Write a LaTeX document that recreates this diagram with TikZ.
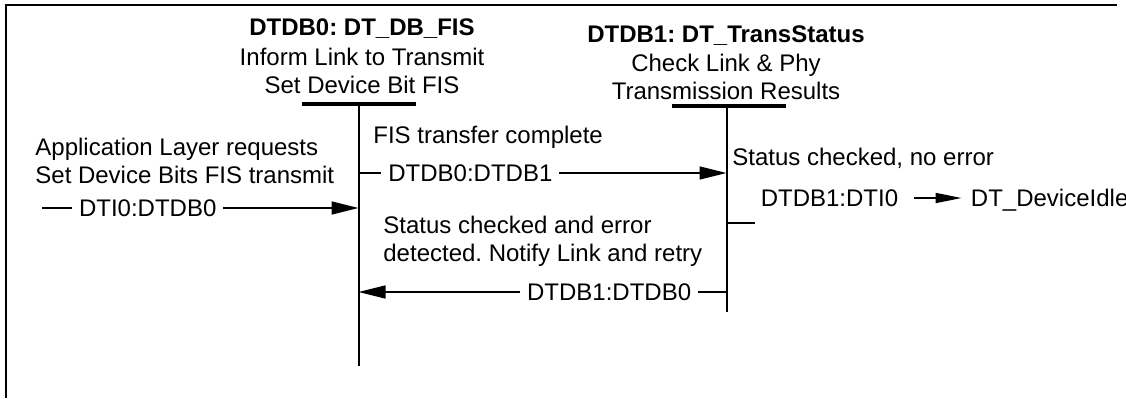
\documentclass[tikz,border=0pt]{standalone}
\usepackage{fontspec}
\setmainfont{Liberation Sans}
\usepackage{tikz}
\usetikzlibrary{arrows.meta, positioning}
\frenchspacing
\tikzset{
    frame_line/.style={
        draw=black, line width=1pt
    },
    state_head/.style={
        align=center, inner sep=0pt, font=\fontsize{12}{14}\selectfont
    },
    state_bar/.style={
        draw=black, line width=2pt
    },
    life_line/.style={
        draw=black, line width=1pt
    },
    msg_arrow/.style={
        -{Triangle[length=13.5pt, width=6.5pt]}, draw=black, line width=0.8pt
    },
    small_arrow/.style={
        -{Triangle[length=13pt, width=5pt]}, draw=black, line width=0.8pt
    },
    tick_line/.style={
        draw=black, line width=0.8pt
    },
    msg_lbl/.style={
        fill=white, inner xsep=3.5pt, inner ysep=1pt,
        text height=8.6pt, text depth=0pt
    },
    note/.style={
        align=left, inner sep=0pt
    }
}

\begin{document}
\begin{tikzpicture}[x=0.5pt, y=-0.5pt, font=\fontsize{12}{14}\selectfont]

    \useasboundingbox (0,0) rectangle (1126,398);

    % Outer frame (only top and left edges visible)
    \draw[frame_line] (1117,5) -- (6,5) -- (6,398);

    % State DTDB0: header, bar and lifeline
    \node[state_head, anchor=base] (dtdb0_head) at (362,93.3) {
        \textbf{DTDB0: DT\_DB\_FIS}\\[1pt]
        Inform Link to Transmit\\
        Set Device Bit FIS
    };
    \coordinate (dtdb0_top) at (358.5,104);
    \coordinate (dtdb0_bot) at (358.5,366);
    \draw[state_bar] (302,104) -- (416,104);
    \draw[life_line] (dtdb0_top) -- (dtdb0_bot);

    % State DTDB1: header, bar and lifeline
    \node[state_head, anchor=base] (dtdb1_head) at (726,99) {
        \textbf{DTDB1: DT\_TransStatus}\\[0.5pt]
        Check Link \& Phy\\
        Transmission Results
    };
    \coordinate (dtdb1_top) at (726.5,106);
    \coordinate (dtdb1_bot) at (726.5,312);
    \draw[state_bar] (672,106) -- (786,106);
    \draw[life_line] (dtdb1_top) -- (dtdb1_bot);

    % Notes beside the transitions
    \node[note, anchor=base west] (app_note) at (35,183) {
        Application Layer requests\\
        Set Device Bits FIS transmit
    };
    \node[note, anchor=base west] (fis_note) at (373,143) {FIS transfer complete};
    \node[note, anchor=base west] (ok_note) at (732,165) {Status checked, no error};
    \node[note, anchor=base west] (err_note) at (383,261) {
        Status checked and error\\
        detected. Notify Link and retry
    };

    % Lifeline end points of the transitions
    \coordinate (dti0_in) at (42,208);
    \coordinate (dtdb0_in) at (358.5,208);
    \coordinate (dtdb0_out) at (358.5,173);
    \coordinate (dtdb1_in) at (726.5,173);
    \coordinate (dtdb1_err) at (726.5,292);
    \coordinate (dtdb0_err) at (358.5,292);
    \coordinate (dtdb1_ok) at (726.5,223);
    \coordinate (ok_end) at (755,223);

    % [1] DTI0 -> DTDB0
    \draw[msg_arrow] (dti0_in) -- node[msg_lbl, pos=0.334] {DTI0:DTDB0} (dtdb0_in);

    % [2] DTDB0 -> DTDB1
    \draw[msg_arrow] (dtdb0_out) -- node[msg_lbl, pos=0.304] {DTDB0:DTDB1} (dtdb1_in);

    % [3] DTDB1 -> DTDB0 (retry)
    \draw[msg_arrow] (dtdb1_err) -- node[msg_lbl, pos=0.319] {DTDB1:DTDB0} (dtdb0_err);

    % [4] DTDB1 -> DTI0 (no error)
    \draw[tick_line] (dtdb1_ok) -- (ok_end);
    \node[msg_lbl, fill=none, inner sep=0pt] (dti0_lbl) at (829.5,198) {DTDB1:DTI0};
    \node[msg_lbl, fill=none, inner sep=0pt, right=36pt of dti0_lbl] (idle) {DT\_DeviceIdle};
    \draw[small_arrow, shorten <=7.5pt, shorten >=4.5pt] (dti0_lbl) -- (idle);

\end{tikzpicture}
\end{document}
